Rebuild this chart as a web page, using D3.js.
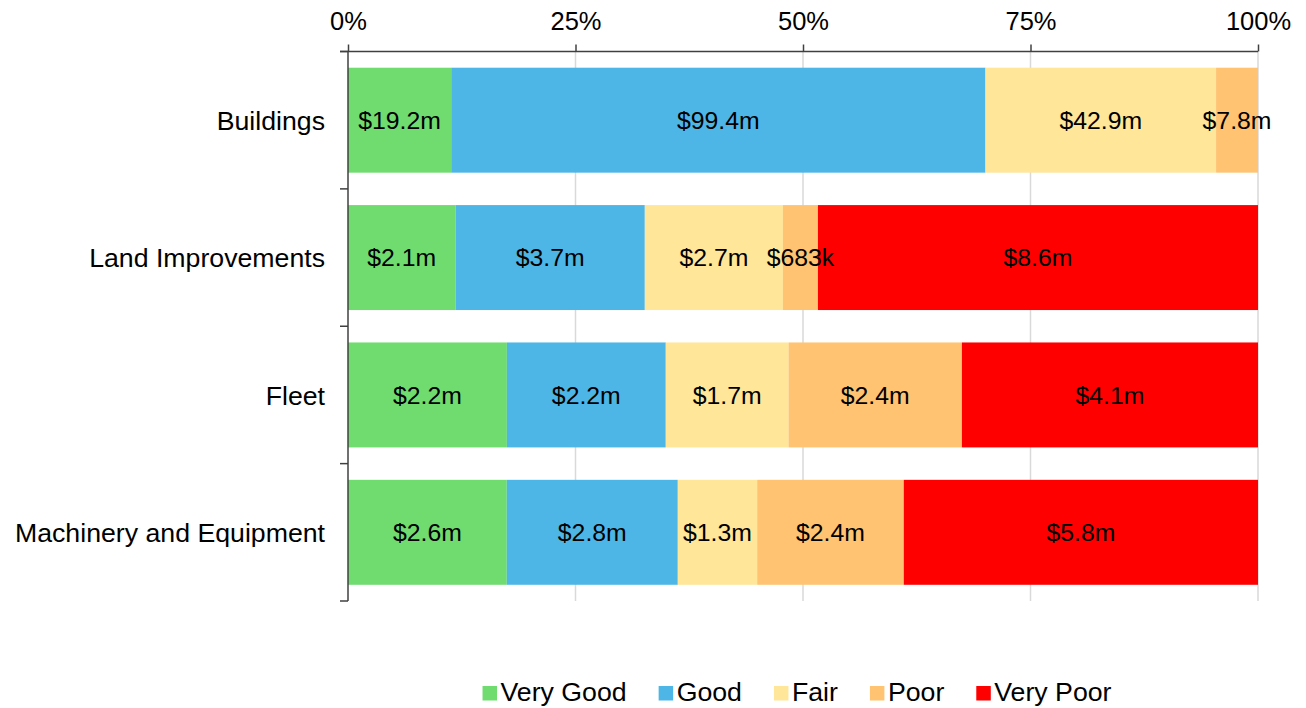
<!DOCTYPE html>
<html><head><meta charset="utf-8">
<script src="https://cdn.jsdelivr.net/npm/d3@7"></script>
<style>
html,body{margin:0;padding:0;background:#fff;}
svg{display:block;font-family:"Liberation Sans",Arial,sans-serif;}
</style></head>
<body>
<svg id="chart" width="1306" height="708"></svg>
<script>
const categories = ["Buildings", "Land Improvements", "Fleet", "Machinery and Equipment"];
const seriesNames = ["Very Good", "Good", "Fair", "Poor", "Very Poor"];
const seriesColors = ["#70dc70", "#4db6e6", "#ffe699", "#ffc371", "#ff0000"];
// values in $ millions, per category, series order
const veryGood = [19.2, 2.1, 2.2, 2.6];
const good     = [99.4, 3.7, 2.2, 2.8];
const fair     = [42.9, 2.7, 1.7, 1.3];
const poor     = [7.8, 0.683, 2.4, 2.4];
const veryPoor = [0, 8.6, 4.1, 5.8];
const valueLabels = [
  ["$19.2m", "$99.4m", "$42.9m", "$7.8m", ""],
  ["$2.1m", "$3.7m", "$2.7m", "$683k", "$8.6m"],
  ["$2.2m", "$2.2m", "$1.7m", "$2.4m", "$4.1m"],
  ["$2.6m", "$2.8m", "$1.3m", "$2.4m", "$5.8m"]
];
const tickValues = [0, 0.25, 0.5, 0.75, 1];
const tickLabels = ["0%", "25%", "50%", "75%", "100%"];

(function () {
const series = [veryGood, good, fair, poor, veryPoor];
const svg = d3.select("#chart");
const pLeft = 348, pRight = 1258, pTop = 51.5, pBottom = 601;

const x = d3.scaleLinear().domain([0, 1]).range([pLeft, pRight]);
const y = d3.scaleBand().domain(categories).range([pTop, pBottom]).paddingInner(0.236).paddingOuter(0.118);

// gridlines
svg.append("g").selectAll("line").data(tickValues.slice(1)).join("line")
  .attr("x1", d => x(d)).attr("x2", d => x(d))
  .attr("y1", pTop).attr("y2", pBottom)
  .attr("stroke", "#d9d9d9").attr("stroke-width", 1.5);

// stacked normalized data
const rows = categories.map((c, i) => {
  const vals = series.map(s => s[i]);
  const total = d3.sum(vals);
  let acc = 0;
  return vals.map((v, j) => {
    const seg = {cat: c, j, x0: acc / total, x1: (acc + v) / total, label: valueLabels[i][j], v};
    acc += v;
    return seg;
  });
}).flat();

const bars = svg.append("g");
bars.selectAll("rect").data(rows.filter(d => d.v > 0)).join("rect")
  .attr("x", d => x(d.x0)).attr("width", d => x(d.x1) - x(d.x0))
  .attr("y", d => y(d.cat)).attr("height", y.bandwidth())
  .attr("fill", d => seriesColors[d.j]);

bars.selectAll("text").data(rows.filter(d => d.v > 0 && d.label)).join("text")
  .attr("x", d => (x(d.x0) + x(d.x1)) / 2)
  .attr("y", d => y(d.cat) + y.bandwidth() / 2)
  .attr("dy", "0.36em")
  .attr("text-anchor", "middle")
  .attr("font-size", "24.8px").attr("fill", "#000")
  .text(d => d.label);

// top axis
const xAxis = d3.axisTop(x).tickValues(tickValues).tickFormat((d, i) => tickLabels[i]).tickSize(7).tickPadding(15);
const gx = svg.append("g").attr("transform", `translate(0,${pTop})`).call(xAxis);
gx.select(".domain").attr("stroke", "#404040").attr("stroke-width", 1.5).attr("d", `M${pLeft - 8},0H${pRight}`);
gx.selectAll(".tick line").attr("stroke", "#404040").attr("stroke-width", 1.5);
gx.selectAll(".tick text").attr("font-size", "25.5px").attr("fill", "#000").attr("font-family", "Liberation Sans, Arial, sans-serif");

// left axis
const gy = svg.append("g");
gy.append("line").attr("x1", pLeft).attr("x2", pLeft).attr("y1", pTop).attr("y2", pBottom)
  .attr("stroke", "#404040").attr("stroke-width", 1.5);
const boundaries = categories.map(c => y(c) - y.step() * y.paddingInner() / 2).slice(1).concat([pTop, pBottom]);
gy.selectAll(".bt").data(boundaries).join("line")
  .attr("x1", pLeft - 8).attr("x2", pLeft).attr("y1", d => d).attr("y2", d => d)
  .attr("stroke", "#404040").attr("stroke-width", 1.5);
gy.selectAll("text").data(categories).join("text")
  .attr("x", 325).attr("y", d => y(d) + y.bandwidth() / 2).attr("dy", "0.36em")
  .attr("text-anchor", "end").attr("font-size", "26.7px").attr("fill", "#000")
  .text(d => d);

// legend
const leg = svg.append("g");
let lx = 0;
seriesNames.forEach((n, i) => {
  const g = leg.append("g");
  g.append("rect").attr("x", 0).attr("y", -15).attr("width", 14.5).attr("height", 14.5).attr("fill", seriesColors[i]);
  const t = g.append("text").attr("x", 18).attr("y", 0).attr("font-size", "26.7px").attr("fill", "#000").text(n);
  const w = 18 + t.node().getComputedTextLength();
  g.attr("transform", `translate(${lx},701)`);
  lx += w + 32;
});
const totalW = lx - 32;
leg.attr("transform", `translate(${797 - totalW / 2},0)`);
})();
</script>
</body></html>
